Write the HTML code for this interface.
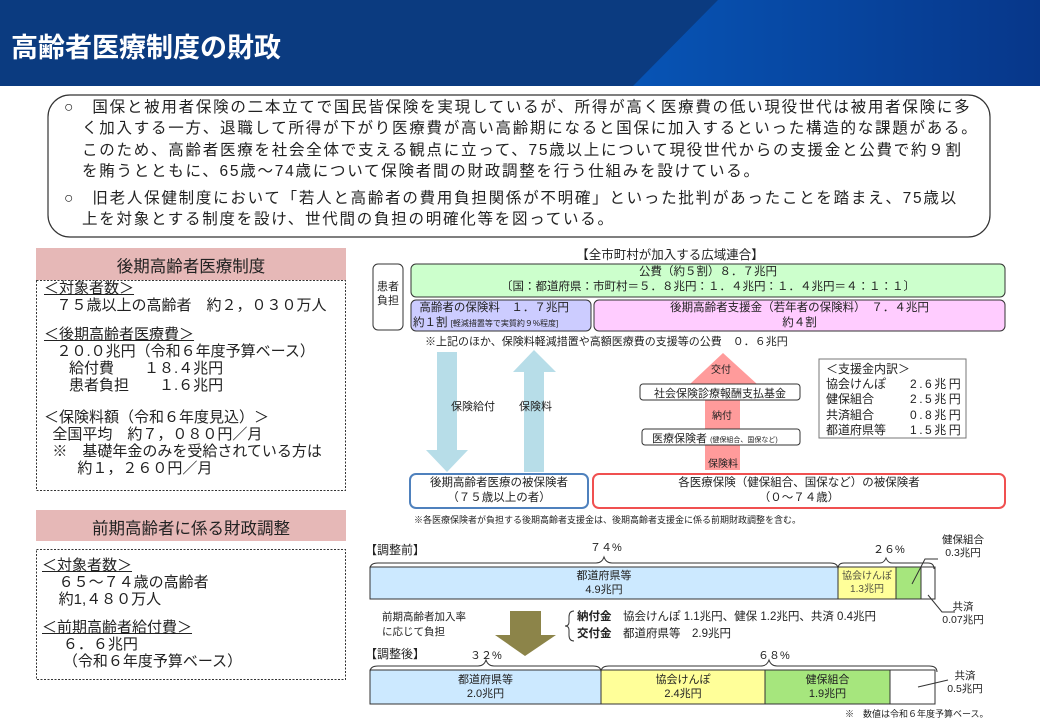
<!DOCTYPE html>
<html><head><meta charset="utf-8"><style>
*{margin:0;padding:0;box-sizing:border-box}
body{width:1040px;height:720px;position:relative;background:#fff;font-family:"Liberation Sans","Noto Sans CJK JP",sans-serif;color:#222;overflow:hidden}
.a{position:absolute;white-space:nowrap}
.c{text-align:center}
.tb{position:absolute;line-height:1.2;white-space:nowrap}
</style></head><body>
<svg class="a" style="left:0;top:0" width="1040" height="720">
<defs><linearGradient id="hg" x1="0" x2="1"><stop offset="0" stop-color="#0754b5"/><stop offset="1" stop-color="#07378a"/></linearGradient></defs>
<rect x="0" y="0" width="1040" height="86" fill="#0b3b80"/>
<polygon points="718,0 1040,0 1040,86 633,86" fill="url(#hg)"/>
<rect x="48" y="95" width="942" height="142" rx="22" fill="#fff" stroke="#333" stroke-width="1.2"/>
<rect x="36" y="248" width="310" height="32" fill="#e6b8b7"/>
<rect x="36.5" y="280.5" width="309" height="210" fill="none" stroke="#333" stroke-dasharray="2,1.5"/>
<rect x="36" y="510" width="310" height="31" fill="#e6b8b7"/>
<rect x="36.5" y="549.5" width="309" height="130" fill="none" stroke="#333" stroke-dasharray="2,1.5"/>
<rect x="373" y="264" width="30" height="66" rx="5" fill="#fff" stroke="#333"/>
<rect x="411" y="264" width="594" height="33" rx="5" fill="#ccffcc" stroke="#333"/>
<rect x="411" y="300" width="180" height="31" rx="5" fill="#ccccff" stroke="#333"/>
<rect x="594" y="300" width="411" height="31" rx="5" fill="#ffccff" stroke="#333"/>
<polygon points="437,352 457,352 457,450 468,450 447,472 426,450 437,450" fill="#b7dde8"/>
<polygon points="524,472 544,472 544,372 556,372 534,350 513,372 524,372" fill="#b7dde8"/>
<polygon points="705,470 740,470 740,384 757,384 723,353 690,384 705,384" fill="#ff9b9b"/>
<rect x="640" y="384" width="160" height="16" rx="3" fill="#fff" stroke="#333"/>
<rect x="642" y="429" width="158" height="16" rx="3" fill="#fff" stroke="#333"/>
<rect x="819" y="359" width="147" height="79" fill="#fff" stroke="#777"/>
<rect x="410" y="474" width="178" height="34" rx="6" fill="#fff" stroke="#4f81bd" stroke-width="2"/>
<rect x="593" y="474" width="412" height="34" rx="6" fill="#fff" stroke="#f05050" stroke-width="2"/>
<rect x="370" y="567" width="468" height="32" fill="#cce9ff" stroke="#333"/>
<rect x="838" y="567" width="58" height="32" fill="#ffff99" stroke="#333"/>
<rect x="896" y="567" width="25" height="32" fill="#a6e67d" stroke="#333"/>
<rect x="921" y="567" width="14" height="32" fill="#fff" stroke="#333"/>
<path d="M370,569 q0,-6 8,-6 h218 q6,0 8,-6 q2,6 8,6 h218 q8,0 8,6" fill="none" stroke="#333"/>
<path d="M838,569 q0,-6 6,-6 h36 q4,0 6,-5 q2,5 6,5 h36 q6,0 6,6" fill="none" stroke="#333"/>
<path d="M912,584 L925,559 H938" fill="none" stroke="#333"/>
<path d="M928,595 L942,612 H955" fill="none" stroke="#333"/>
<polygon points="510,611 541,611 541,635 556,635 525,656 495,635 510,635" fill="#8c8449"/>
<path d="M574,611 q-5,0 -5,6 v5 q0,4 -4,4 q4,0 4,4 v5 q0,6 5,6" fill="none" stroke="#333"/>
<rect x="370" y="670" width="231" height="34" fill="#cce9ff" stroke="#333"/>
<rect x="601" y="670" width="164" height="34" fill="#ffff99" stroke="#333"/>
<rect x="765" y="670" width="125" height="34" fill="#a6e67d" stroke="#333"/>
<rect x="890" y="670" width="45" height="34" fill="#fff" stroke="#333"/>
<path d="M370,672 q0,-6 8,-6 h100 q6,0 8,-6 q2,6 8,6 h99 q8,0 8,6" fill="none" stroke="#333"/>
<path d="M601,672 q0,-6 8,-6 h152 q6,0 8,-6 q2,6 8,6 h152 q8,0 8,6" fill="none" stroke="#333"/>
<path d="M918,687 L948,680" fill="none" stroke="#333"/>
</svg>

<div class="a" style="left:11px;top:26px;color:#fff;font-size:27px;font-weight:bold">高齢者医療制度の財政</div>

<div class="tb" style="left:64px;top:97px;font-size:15.5px;line-height:21.3px;letter-spacing:1.75px">
<div>○　国保と被用者保険の二本立てで国民皆保険を実現しているが、所得が高く医療費の低い現役世代は被用者保険に多</div>
<div style="padding-left:18px">く加入する一方、退職して所得が下がり医療費が高い高齢期になると国保に加入するといった構造的な課題がある。</div>
<div style="padding-left:18px">このため、高齢者医療を社会全体で支える観点に立って、75歳以上について現役世代からの支援金と公費で約９割</div>
<div style="padding-left:18px">を賄うとともに、65歳～74歳について保険者間の財政調整を行う仕組みを設けている。</div>
<div style="margin-top:6px">○　旧老人保健制度において「若人と高齢者の費用負担関係が不明確」といった批判があったことを踏まえ、75歳以</div>
<div style="padding-left:18px">上を対象とする制度を設け、世代間の負担の明確化等を図っている。</div>
</div>

<div class="a c" style="left:36px;top:253px;width:310px;font-size:16.5px">後期高齢者医療制度</div>
<div class="tb" style="left:44px;top:280px;font-size:15px;line-height:17px">
<u>＜対象者数＞</u><br>&nbsp;&nbsp;&nbsp;７５歳以上の高齢者　約２，０３０万人<br><div style="height:12px"></div>
<u>＜後期高齢者医療費＞</u><br>&nbsp;&nbsp;&nbsp;２０.０兆円（令和６年度予算ベース）<br>&nbsp;&nbsp;&nbsp;&nbsp;&nbsp;&nbsp;給付費　　１８.４兆円<br>&nbsp;&nbsp;&nbsp;&nbsp;&nbsp;&nbsp;患者負担　　１.６兆円<br><div style="height:15px"></div>
＜保険料額（令和６年度見込）＞<br>&nbsp;&nbsp;全国平均　約７，０８０円／月<br>&nbsp;&nbsp;※　基礎年金のみを受給されている方は<br>&nbsp;&nbsp;&nbsp;&nbsp;&nbsp;&nbsp;&nbsp;&nbsp;約１，２６０円／月
</div>
<div class="a c" style="left:36px;top:515px;width:310px;font-size:16.5px">前期高齢者に係る財政調整</div>
<div class="tb" style="left:42px;top:557px;font-size:15px;line-height:17px">
<u>＜対象者数＞</u><br>&nbsp;&nbsp;&nbsp;&nbsp;６５～７４歳の高齢者<br>&nbsp;&nbsp;&nbsp;&nbsp;約1,４８０万人<br><div style="height:11px"></div>
<u>＜前期高齢者給付費＞</u><br>&nbsp;&nbsp;&nbsp;&nbsp;&nbsp;６．６兆円<br>&nbsp;&nbsp;&nbsp;&nbsp;&nbsp;（令和６年度予算ベース）
</div>

<div class="a c" style="left:540px;top:244px;width:260px;font-size:12.5px">【全市町村が加入する広域連合】</div>
<div class="a c" style="left:373px;top:280px;width:30px;font-size:11px;line-height:14px">患者<br>負担</div>
<div class="a c" style="left:411px;top:265px;width:594px;font-size:11.5px;line-height:15px">公費（約５割）８．７兆円<br>〔国：都道府県：市町村＝５．８兆円：１．４兆円：１．４兆円＝４：１：１〕</div>
<div class="a" style="left:413px;top:301px;width:178px;font-size:11.5px;line-height:15px">&nbsp;&nbsp;高齢者の保険料　１．７兆円<br>約１割 <span style="font-size:8px">[軽減措置等で実質約９%程度]</span></div>
<div class="a c" style="left:594px;top:301px;width:411px;font-size:11.5px;line-height:15px">後期高齢者支援金（若年者の保険料）　７．４兆円<br>約４割</div>
<div class="a" style="left:425px;top:333px;font-size:11px">※上記のほか、保険料軽減措置や高額医療費の支援等の公費　０．６兆円</div>
<div class="a" style="left:451px;top:398px;font-size:11px">保険給付</div>
<div class="a" style="left:519px;top:398px;font-size:11px">保険料</div>
<div class="a" style="left:711px;top:361px;font-size:10px">交付</div>
<div class="a c" style="left:640px;top:385px;width:160px;font-size:11px">社会保険診療報酬支払基金</div>
<div class="a" style="left:712px;top:407px;font-size:10px">納付</div>
<div class="a" style="left:652px;top:430px;font-size:11px">医療保険者 <span style="font-size:7px">(健保組合、国保など)</span></div>
<div class="a" style="left:708px;top:455px;font-size:10px">保険料</div>
<div class="tb" style="left:826px;top:362px;font-size:12px;line-height:15.2px">＜支援金内訳＞<br>協会けんぽ　　<span style="letter-spacing:2.5px">2.6兆円</span><br>健保組合　　　<span style="letter-spacing:2.5px">2.5兆円</span><br>共済組合　　　<span style="letter-spacing:2.5px">0.8兆円</span><br>都道府県等　　<span style="letter-spacing:2.5px">1.5兆円</span></div>
<div class="a c" style="left:410px;top:476px;width:178px;font-size:11.5px;line-height:15px">後期高齢者医療の被保険者<br>（７５歳以上の者）</div>
<div class="a c" style="left:593px;top:476px;width:412px;font-size:11.5px;line-height:15px">各医療保険（健保組合、国保など）の被保険者<br>（０～７４歳）</div>
<div class="a" style="left:414px;top:513px;font-size:9px">※各医療保険者が負担する後期高齢者支援金は、後期高齢者支援金に係る前期財政調整を含む。</div>

<div class="a" style="left:365px;top:541px;font-size:12px">【調整前】</div>
<div class="a" style="left:590px;top:539px;font-size:11px">７４%</div>
<div class="a" style="left:873px;top:541px;font-size:11px">２６%</div>
<div class="a c" style="left:938px;top:534px;width:50px;font-size:10.5px;line-height:13px">健保組合<br>0.3兆円</div>
<div class="a c" style="left:370px;top:569px;width:468px;font-size:11px;line-height:14px">都道府県等<br>4.9兆円</div>
<div class="a c" style="left:838px;top:570px;width:58px;font-size:10px;line-height:13px;color:#554">協会けんぽ<br>1.3兆円</div>
<div class="a c" style="left:938px;top:601px;width:50px;font-size:10.5px;line-height:13px">共済<br>0.07兆円</div>
<div class="a" style="left:382px;top:610px;font-size:10.5px;line-height:15px">前期高齢者加入率<br>に応じて負担</div>
<div class="a" style="left:577px;top:609px;font-size:11.5px;line-height:17px"><b>納付金</b>　協会けんぽ 1.1兆円、健保 1.2兆円、共済 0.4兆円<br><b>交付金</b>　都道府県等　2.9兆円</div>
<div class="a" style="left:365px;top:645px;font-size:12px">【調整後】</div>
<div class="a" style="left:470px;top:647px;font-size:11px">３２%</div>
<div class="a" style="left:758px;top:647px;font-size:11px">６８%</div>
<div class="a c" style="left:370px;top:673px;width:231px;font-size:11px;line-height:14px">都道府県等<br>2.0兆円</div>
<div class="a c" style="left:601px;top:673px;width:164px;font-size:11px;line-height:14px">協会けんぽ<br>2.4兆円</div>
<div class="a c" style="left:765px;top:673px;width:125px;font-size:11px;line-height:14px">健保組合<br>1.9兆円</div>
<div class="a c" style="left:940px;top:670px;width:50px;font-size:10.5px;line-height:13px">共済<br>0.5兆円</div>
<div class="a" style="left:845px;top:707px;font-size:9px">※　数値は令和６年度予算ベース。</div>
</body></html>
